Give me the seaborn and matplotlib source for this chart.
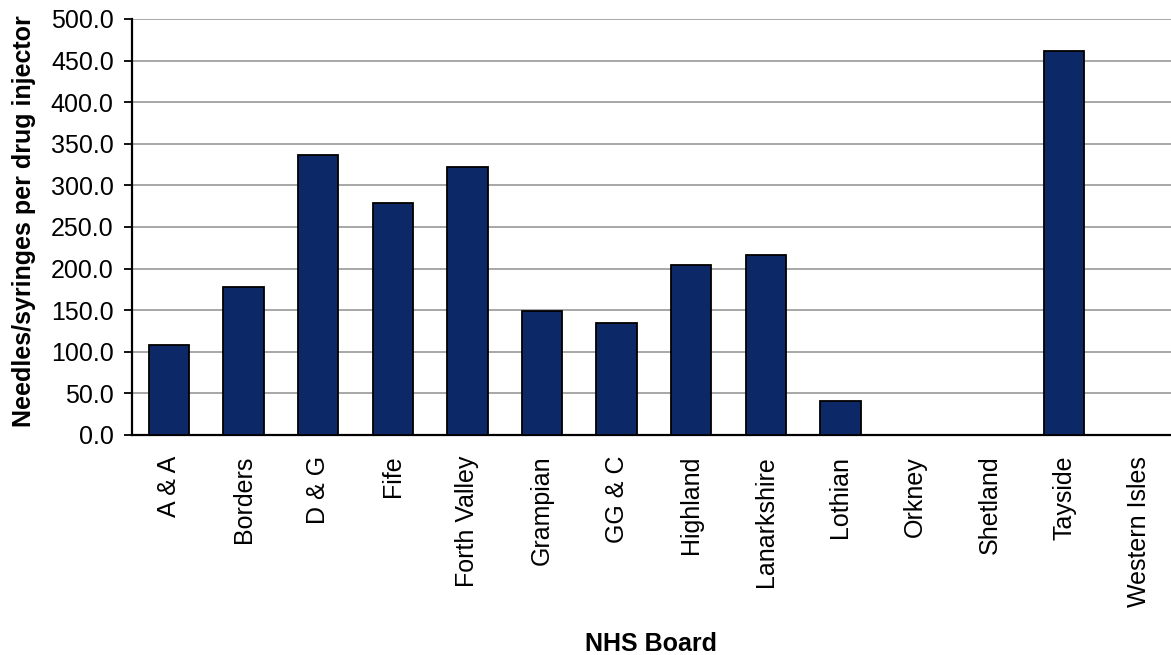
import pandas as pd
import numpy as np
import matplotlib
matplotlib.use("Agg")
import matplotlib.pyplot as plt
import seaborn as sns

# data
boards = ["A & A", "Borders", "D & G", "Fife", "Forth Valley", "Grampian", "GG & C",
          "Highland", "Lanarkshire", "Lothian", "Orkney", "Shetland", "Tayside", "Western Isles"]
needles = [108, 178, 336, 279, 322, 149, 135, 204, 216, 41, 0, 0, 462, 0]
yticks = np.arange(0, 501, 50)

df = pd.DataFrame({"Board": boards, "Needles": needles})

sns.set_style("white")
plt.rcParams["font.family"] = ["Liberation Sans", "DejaVu Sans"]
plt.rcParams["text.color"] = "black"
plt.rcParams["axes.labelcolor"] = "black"
plt.rcParams["xtick.color"] = "black"
plt.rcParams["ytick.color"] = "black"

fig = plt.figure(figsize=(11.71, 6.55), dpi=100)
# plot area runs a little past the right edge, as in the original
ax = fig.add_axes([0.1125, 0.336, 0.8918, 0.635])

sns.barplot(x="Board", y="Needles", data=df, color="#0C2866", width=0.54,
            edgecolor="black", linewidth=1.3, saturation=1, ax=ax, zorder=3)

ax.set_ylim(0, 500)
ax.set_yticks(yticks)
ax.set_yticklabels([f"{v:.1f}" for v in yticks], fontsize=18)
ax.yaxis.grid(True, color="#A0A0A0", linewidth=1.3, zorder=0)
ax.set_axisbelow(True)
ax.set_xlim(-0.5, len(boards) - 0.5)

# category labels centred, tick marks between categories
ax.set_xticks(range(len(boards)))
ax.set_xticklabels(boards, rotation=90, fontsize=18)
ax.tick_params(axis="x", which="major", length=0, pad=15)
ax.set_xticks(np.arange(-0.5, len(boards), 1), minor=True)
ax.tick_params(axis="x", which="minor", length=6, width=1.3, direction="out")
ax.tick_params(axis="y", length=6, width=1.3, direction="out", left=True, pad=7)

sns.despine(ax=ax, top=True, right=True)
for s in ["left", "bottom"]:
    ax.spines[s].set_color("black")
    ax.spines[s].set_linewidth(1.6)

ax.set_xlabel("NHS Board", fontsize=18, fontweight="bold")
ax.set_ylabel("Needles/syringes per drug injector", fontsize=18, fontweight="bold")
ax.xaxis.set_label_coords(0.497, -0.474)
ax.yaxis.set_label_coords(-0.092, 0.515)

plt.savefig("out.png", dpi=100)
